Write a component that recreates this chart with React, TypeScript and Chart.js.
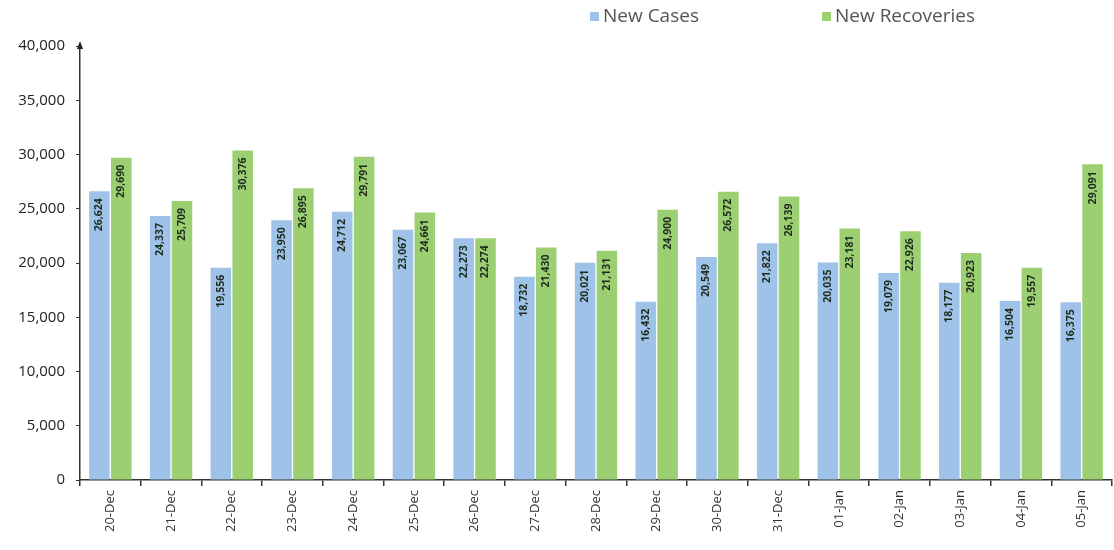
import React, { useEffect, useRef } from "react";
import { Chart, registerables } from "chart.js";

Chart.register(...registerables);

const categories = ["20-Dec","21-Dec","22-Dec","23-Dec","24-Dec","25-Dec","26-Dec","27-Dec","28-Dec","29-Dec","30-Dec","31-Dec","01-Jan","02-Jan","03-Jan","04-Jan","05-Jan"];
const newCases = [26624,24337,19556,23950,24712,23067,22273,18732,20021,16432,20549,21822,20035,19079,18177,16504,16375];
const newRecoveries = [29690,25709,30376,26895,29791,24661,22274,21430,21131,24900,26572,26139,23181,22926,20923,19557,29091];
const seriesNames = ["New Cases", "New Recoveries"];
const seriesColors = ["#9fc2e8", "#9ccf72"];

const fmt = (v: number) => v.toLocaleString("en-US");

const labelsPlugin = {
  id: "barLabels",
  afterDatasetsDraw(chart: any) {
    const ctx = chart.ctx;
    ctx.save();
    ctx.font = "bold 10.5px 'Open Sans'";
    ctx.fillStyle = "#1d2b1d";
    ctx.textAlign = "right";
    ctx.textBaseline = "middle";
    chart.data.datasets.forEach((ds: any, di: number) => {
      const meta = chart.getDatasetMeta(di);
      meta.data.forEach((bar: any, i: number) => {
        ctx.save();
        ctx.translate(bar.x, bar.y + 7);
        ctx.rotate(-Math.PI / 2);
        ctx.fillText(fmt(ds.data[i]), 0, 0);
        ctx.restore();
      });
    });
    ctx.restore();
  },
};

const decorPlugin = {
  id: "decor",
  afterDraw(chart: any) {
    const ctx = chart.ctx;
    const a = chart.chartArea;
    ctx.save();
    ctx.fillStyle = "#222";
    ctx.beginPath();
    ctx.moveTo(a.left, a.top - 5);
    ctx.lineTo(a.left - 3, a.top + 3);
    ctx.lineTo(a.left + 3, a.top + 3);
    ctx.closePath();
    ctx.fill();
    ctx.font = "19px 'Open Sans'";
    ctx.textBaseline = "middle";
    ctx.textAlign = "left";
    const xs = [590, 822];
    const y = 17;
    seriesNames.forEach((n, i) => {
      ctx.fillStyle = seriesColors[i];
      ctx.fillRect(xs[i], y - 5, 9, 9);
      ctx.fillStyle = "#555";
      ctx.fillText(n, xs[i] + 13, y);
    });
    ctx.restore();
  },
};

export default function App() {
  const ref = useRef<HTMLCanvasElement>(null);
  useEffect(() => {
    document.body.style.margin = "0";
    const chart = new Chart(ref.current!, {
      type: "bar",
      data: {
        labels: categories,
        datasets: [
          { label: seriesNames[0], data: newCases, backgroundColor: seriesColors[0], categoryPercentage: 0.72, barPercentage: 0.94 },
          { label: seriesNames[1], data: newRecoveries, backgroundColor: seriesColors[1], categoryPercentage: 0.72, barPercentage: 0.94 },
        ],
      },
      options: {
        animation: false,
        responsive: false,
        layout: { padding: { top: 46, left: 0, right: 2, bottom: 0 } },
        plugins: { legend: { display: false }, tooltip: { enabled: false } },
        scales: {
          x: {
            offset: true,
            grid: { display: true, offset: true, drawOnChartArea: false, tickLength: 6, color: "#333", lineWidth: 1.5 },
            border: { display: true, color: "#333", width: 1.5 },
            ticks: { maxRotation: 90, minRotation: 90, color: "#333", font: { size: 13, family: "'Open Sans'" }, padding: 4 },
            afterFit: (s: any) => { s.height = 70; },
          },
          y: {
            min: 0,
            max: 40000,
            grid: { display: true, drawOnChartArea: false, tickLength: 4, color: "#333" },
            border: { display: true, color: "#333", width: 1.5 },
            ticks: { stepSize: 5000, color: "#222", font: { size: 15, family: "'Open Sans'" }, padding: 11, callback: (v: any) => fmt(Number(v)) },
            afterFit: (s: any) => { s.width = 80; },
          },
        },
      },
      plugins: [labelsPlugin, decorPlugin],
    });
    return () => chart.destroy();
  }, []);
  return <canvas ref={ref} width={1114} height={550} style={{ display: "block" }} />;
}
